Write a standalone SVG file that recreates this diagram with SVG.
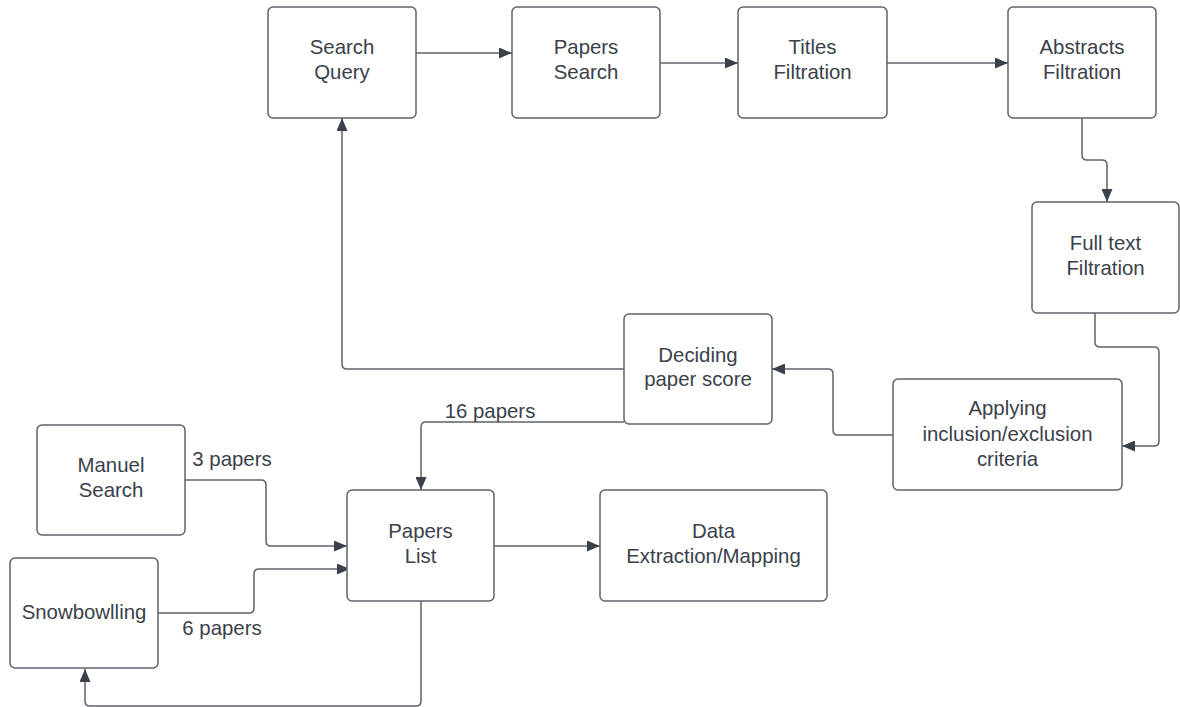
<svg xmlns="http://www.w3.org/2000/svg" width="1180" height="707" viewBox="0 0 1180 707">
<style>
.box{fill:#fff;stroke:#5f6368;stroke-width:1.5}
.t{font-family:"Liberation Sans",Arial,sans-serif;font-size:20.4px;fill:#3a414a;text-anchor:middle}
.c{fill:none;stroke:#5f6368;stroke-width:1.5}
</style>
<defs>
<marker id="ah" markerWidth="13" markerHeight="11" refX="13" refY="5.5" orient="auto" markerUnits="userSpaceOnUse">
<path d="M0,0 L13,5.5 L0,11 Z" fill="#3a414a"/>
</marker>
</defs>
<rect width="1180" height="707" fill="#fff"/>
<g id="connectors">
<path class="c" marker-end="url(#ah)" d="M416,53 H512"/>
<path class="c" marker-end="url(#ah)" d="M660,63 H738"/>
<path class="c" marker-end="url(#ah)" d="M887,63 H1008"/>
<path class="c" marker-end="url(#ah)" d="M1082,118 V155 Q1082,160 1087,160 H1102 Q1107,160 1107,165 V202"/>
<path class="c" marker-end="url(#ah)" d="M1095,313 V342 Q1095,347 1100,347 H1154 Q1159,347 1159,352 V441 Q1159,446 1154,446 H1122"/>
<path class="c" marker-end="url(#ah)" d="M893,435 H838 Q833,435 833,430 V374 Q833,369 828,369 H772"/>
<path class="c" marker-end="url(#ah)" d="M624,369 H347 Q342,369 342,364 V118"/>
<path class="c" marker-end="url(#ah)" d="M624,422 H426 Q421,422 421,427 V490"/>
<path class="c" marker-end="url(#ah)" d="M185,480 H261 Q266,480 266,485 V541 Q266,546 271,546 H347"/>
<path class="c" marker-end="url(#ah)" d="M158,613 H249 Q254,613 254,608 V574 Q254,569 259,569 H350"/>
<path class="c" marker-end="url(#ah)" d="M421,601 V701 Q421,706 416,706 H90 Q85,706 85,701 V669"/>
<path class="c" marker-end="url(#ah)" d="M494,546 H600"/>
<text class="t" x="490" y="418">16 papers</text>
<text class="t" x="232" y="466">3 papers</text>
<text class="t" x="222" y="635">6 papers</text>
</g>
<g id="search-query">
<rect class="box" x="268" y="7" width="148" height="111" rx="5"/>
<text class="t" x="342" y="54">Search</text>
<text class="t" x="342" y="79">Query</text>
</g>
<g id="papers-search">
<rect class="box" x="512" y="7" width="148" height="111" rx="5"/>
<text class="t" x="586" y="54">Papers</text>
<text class="t" x="586" y="79">Search</text>
</g>
<g id="titles-filtration">
<rect class="box" x="738" y="7" width="149" height="111" rx="5"/>
<text class="t" x="812.5" y="54">Titles</text>
<text class="t" x="812.5" y="79">Filtration</text>
</g>
<g id="abstracts-filtration">
<rect class="box" x="1008" y="7" width="148" height="111" rx="5"/>
<text class="t" x="1082" y="54">Abstracts</text>
<text class="t" x="1082" y="79">Filtration</text>
</g>
<g id="full-text-filtration">
<rect class="box" x="1032" y="202" width="147" height="111" rx="5"/>
<text class="t" x="1105.5" y="250">Full text</text>
<text class="t" x="1105.5" y="275">Filtration</text>
</g>
<g id="applying-criteria">
<rect class="box" x="893" y="379" width="229" height="111" rx="5"/>
<text class="t" x="1007.5" y="415">Applying</text>
<text class="t" x="1007.5" y="441">inclusion/exclusion</text>
<text class="t" x="1007.5" y="466">criteria</text>
</g>
<g id="deciding-paper-score">
<rect class="box" x="624" y="314" width="148" height="110" rx="5"/>
<text class="t" x="698" y="362">Deciding</text>
<text class="t" x="698" y="386">paper score</text>
</g>
<g id="manuel-search">
<rect class="box" x="37" y="425" width="148" height="110" rx="5"/>
<text class="t" x="111" y="472">Manuel</text>
<text class="t" x="111" y="497">Search</text>
</g>
<g id="snowbowlling">
<rect class="box" x="10" y="558" width="148" height="110" rx="5"/>
<text class="t" x="84" y="619">Snowbowlling</text>
</g>
<g id="papers-list">
<rect class="box" x="347" y="490" width="147" height="111" rx="5"/>
<text class="t" x="420.5" y="538">Papers</text>
<text class="t" x="420.5" y="563">List</text>
</g>
<g id="data-extraction">
<rect class="box" x="600" y="490" width="227" height="111" rx="5"/>
<text class="t" x="713.5" y="538">Data</text>
<text class="t" x="713.5" y="563">Extraction/Mapping</text>
</g>
</svg>
